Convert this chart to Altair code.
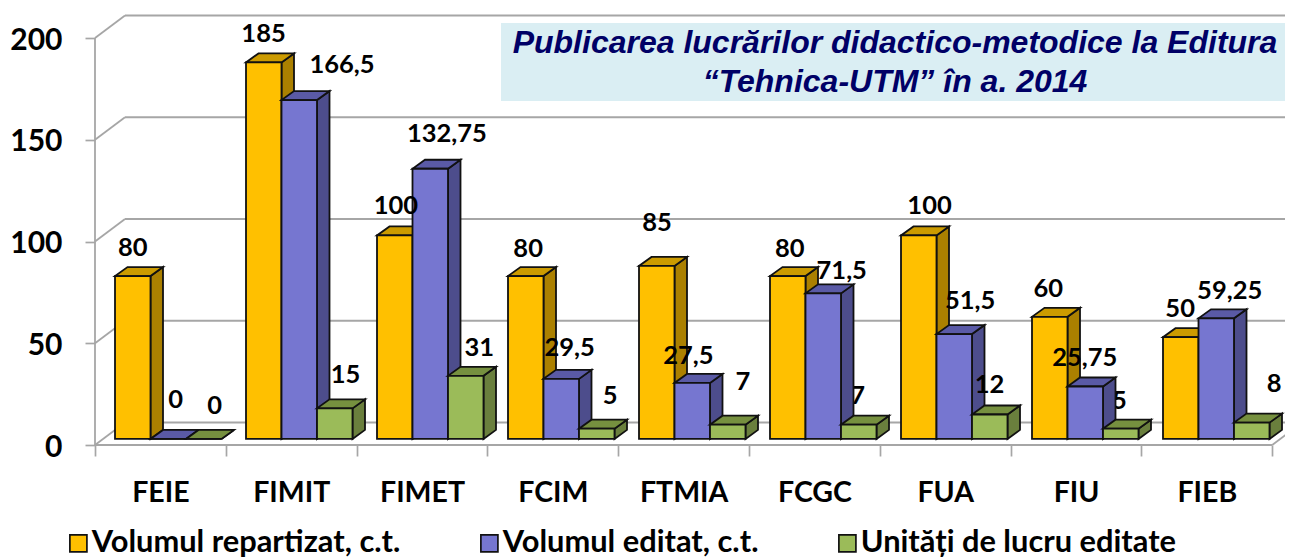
import altair as alt
import pandas as pd

categories = ["FEIE", "FIMIT", "FIMET", "FCIM", "FTMIA", "FCGC", "FUA", "FIU", "FIEB"]
series_names = ["Volumul repartizat, c.t.", "Volumul editat, c.t.", "Unități de lucru editate"]
repartizat = [80, 185, 100, 80, 85, 80, 100, 60, 50]
editat = [0, 166.5, 132.75, 29.5, 27.5, 71.5, 51.5, 25.75, 59.25]
unitati = [0, 15, 31, 5, 7, 7, 12, 5, 8]
y_ticks = [0, 50, 100, 150, 200]
title_lines = ["Publicarea lucrărilor didactico-metodice la Editura", "“Tehnica-UTM” în a. 2014"]

# label nudges (px) relative to the top-centre of each bar
nudge_rep = [(0, -28), (0, -28.5), (1.5, -29.5), (3, -27), (1, -43), (3, -27), (12, -29.5), (0, -28), (1, -28)]
nudge_edi = [(7.5, -39), (43, -35), (17, -35), (9, -31), (-3, -27), (19.5, -22.5), (17, -33), (1, -28), (15, -27)]
nudge_uni = [(11, -33), (11, -33), (14, -28), (14, -33), (16, -43), (0, -29), (1, -29), (0, -28), (24, -39)]
# labels of the third series that sit behind the neighbouring bar
hidden_labels = ["FCGC", "FIU"]

front = ["#FFC000", "#7676D0", "#9BBB59"]
top_c = ["#CC9B00", "#5A5AA6", "#76903F"]
side_c = ["#AB8000", "#4D4D8C", "#6A7F3D"]

W, H = 1190, 430
STEP = 130.8
PXV = 2.035
X_MAX = W / STEP
Y_MAX = H / PXV
BSTEP = 131 / STEP
BAR = 35.5 / STEP
GAP = 20 / STEP
BASE = 3.0
DX = 12.5 / STEP
DY = 9.0 / PXV
WDX = 30 / STEP
WDY = 22.5 / PXV

xs = alt.Scale(domain=[0, X_MAX], nice=False, zero=False)
ys = alt.Scale(domain=[0, Y_MAX], nice=False, zero=False)

half_ticks = [i * 0.5 for i in range(19)]
names_js = "[" + ",".join(f"'{c}'" for c in categories) + "]"
x_axis = alt.Axis(
    values=half_ticks, title=None, domain=False, grid=False, tickSize=11, tickWidth=1.7,
    tickColor={"condition": {"test": "datum.value % 1 == 0", "value": "#A6A6A6"}, "value": "transparent"},
    labelExpr=f"datum.value % 1 == 0 ? '' : {names_js}[floor(datum.value)]",
    labelFont="Lato", labelFontWeight="bold", labelFontSize=28.5, labelColor="black",
    labelPadding=22, labelOverlap=False, labelFlush=False,
)
y_axis = alt.Axis(
    values=y_ticks, title=None, domain=False, grid=False, tickSize=10, tickWidth=1.7, tickColor="#A6A6A6",
    labelFont="Lato", labelFontWeight="bold", labelFontSize=30, labelColor="black", labelPadding=23,
    labelOffset=2,
)
X = lambda f: alt.X(f, type="quantitative", scale=xs, axis=x_axis)
Y = lambda f: alt.Y(f, type="quantitative", scale=ys, axis=y_axis)

rows = []
for v in y_ticks:
    rows.append(dict(a=0, b=v, c=WDX, d=v + WDY))
    rows.append(dict(a=WDX, b=v + WDY, c=X_MAX + WDX, d=v + WDY))
rows.append(dict(a=0, b=0, c=0, d=200))
rows.append(dict(a=0, b=0, c=9, d=0))
rows.append(dict(a=9, b=0, c=9 + WDX, d=WDY))
wall_df = pd.DataFrame(rows)

walls = alt.Chart(wall_df).mark_rule(color="#A6A6A6", strokeWidth=1.8).encode(
    x=X("a"), y=Y("b"), x2="c:Q", y2="d:Q",
)

title_box = alt.Chart(pd.DataFrame({"k": [0]})).mark_rect(color="#DAEEF3").encode(
    x=alt.value(501 - 95), x2=alt.value(W), y=alt.value(23 - 15), y2=alt.value(101 - 15)
)
titles = [
    alt.Chart(pd.DataFrame({"k": [0]})).mark_text(
        text=t, font="Liberation Sans", fontStyle="italic", fontWeight="bold", fontSize=32,
        color="#000066", align="center", baseline="alphabetic",
    ).encode(x=alt.value(895 - 95), y=alt.value(yy - 15))
    for t, yy in zip(title_lines, [53, 92])
]

all_vals = [repartizat, editat, unitati]
all_nudge = [nudge_rep, nudge_edi, nudge_uni]


def bar_layers(s):
    vals = all_vals[s]
    front_rows, top_rows, side_rows = [], [], []
    for i, (cat, v) in enumerate(zip(categories, vals)):
        x0 = i * BSTEP + GAP + s * BAR
        x1 = x0 + BAR
        t = BASE + v
        front_rows.append(dict(series=series_names[s], x0=x0, x1=x1, y0=BASE, y1=t))
        for xx, lo, hi in [(x0, t, t), (x0 + DX, t, t + DY), (x1, t, t + DY), (x1 + DX, t + DY, t + DY)]:
            top_rows.append(dict(g=cat, px=xx, lo=lo, hi=hi))
        for xx, lo, hi in [(x1, BASE, t), (x1 + DX, BASE + DY, t + DY)]:
            side_rows.append(dict(g=cat, px=xx, lo=lo, hi=hi))
    style = dict(stroke="#111111", strokeWidth=1.8, strokeJoin="miter", interpolate="linear", orient="vertical")
    side = alt.Chart(pd.DataFrame(side_rows)).mark_area(color=side_c[s], **style).encode(
        x=X("px"), y=Y("lo"), y2="hi:Q", detail="g:N"
    )
    top = alt.Chart(pd.DataFrame(top_rows)).mark_area(color=top_c[s], **style).encode(
        x=X("px"), y=Y("lo"), y2="hi:Q", detail="g:N"
    )
    fr = alt.Chart(pd.DataFrame(front_rows)).mark_rect(stroke="#111111", strokeWidth=1.8).encode(
        x=X("x0"), x2="x1:Q", y=Y("y0"), y2="y1:Q",
        color=alt.Color(
            "series:N",
            sort=series_names,
            scale=alt.Scale(domain=series_names, range=front),
            legend=alt.Legend(
                title=None, orient="none", legendX=-32, legendY=513, direction="horizontal", columns=3,
                symbolType="square", symbolSize=290, symbolStrokeColor="#111111", symbolStrokeWidth=1.7,
                symbolOpacity=1, labelFont="Lato", labelFontWeight="bold", labelFontSize=30.8, labelColor="black",
                labelLimit=0, labelOffset={"expr": "-2"}, columnPadding=73, gridAlign="none", padding=0,
            ),
        ),
    )
    return [side, top, fr]


def label_layer(s, keep=None):
    rows = []
    for i, (v, (dx, dy)) in enumerate(zip(all_vals[s], all_nudge[s])):
        if keep is not None and not keep(categories[i]):
            continue
        xc = i + GAP + (s + 0.5) * BAR
        rows.append(dict(lx=xc + dx / STEP, ly=BASE + v - dy / PXV, t=f"{v:g}".replace(".", ",")))
    return alt.Chart(pd.DataFrame(rows)).mark_text(
        font="Lato", fontWeight="bold", fontSize=25.5, color="black", align="center", baseline="middle"
    ).encode(x=X("lx"), y=Y("ly"), text="t:N")


layers = [walls, title_box] + titles
layers += bar_layers(0)
layers += [label_layer(2, lambda c: c in hidden_labels)]
layers += bar_layers(1)
layers += bar_layers(2)
layers += [label_layer(0), label_layer(1), label_layer(2, lambda c: c not in hidden_labels)]

chart = alt.layer(*layers).properties(
    width=W,
    height=H,
    padding={"left": 87, "top": 7, "right": 0, "bottom": 113},
    autosize=alt.AutoSizeParams(type="none"),
).configure_view(stroke=None).configure_legend(padding=0)

chart.save("out.html", embed_options={"renderer": "svg", "actions": False})
